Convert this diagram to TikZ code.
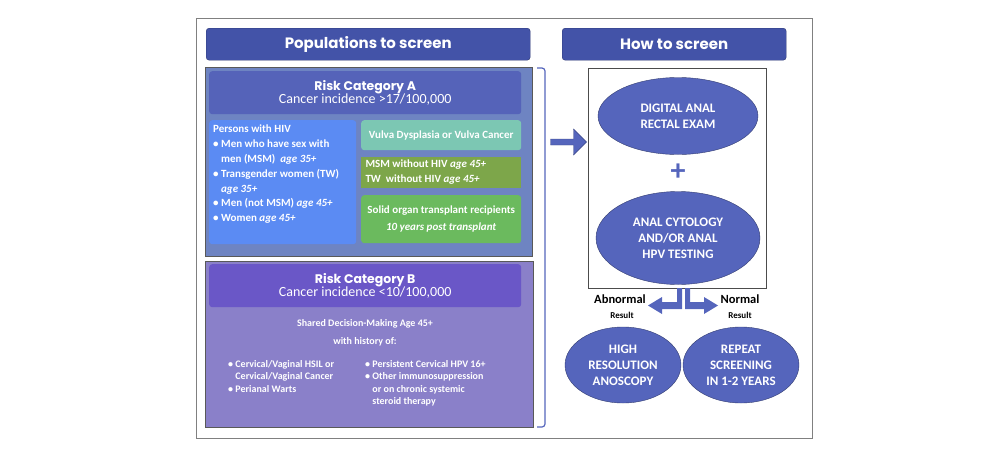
\documentclass[tikz,border=0pt]{standalone}
\usepackage{fontspec}
\setmainfont{Carlito}
\newfontfamily\hdr{Poppins}
\usetikzlibrary{shapes.geometric,shapes.arrows}
\definecolor{hdrblue}{HTML}{4353A8}
\definecolor{panA}{HTML}{6E84C2}
\definecolor{hdA}{HTML}{5563B9}
\definecolor{hiv}{HTML}{5B8BF3}
\definecolor{teal}{HTML}{7CC7B3}
\definecolor{olive}{HTML}{7DA64A}
\definecolor{grn}{HTML}{6BBA5E}
\definecolor{panB}{HTML}{8A80C9}
\definecolor{hdB}{HTML}{6A57C7}
\definecolor{ellc}{HTML}{5565BC}
\begin{document}
\begin{tikzpicture}[x=1pt,y=-1pt,
  hdrbox/.style={fill=hdrblue,rounded corners=3pt,draw=hdrblue!70!black,text=white,font=\hdr\bfseries\fontsize{15}{17}\selectfont},
  box/.style={rounded corners=3pt,text=white},
  ell/.style={ellipse,fill=ellc,draw=ellc!60!black,text=white,align=center,font=\bfseries\fontsize{13}{16}\selectfont,inner sep=0pt},
  lab/.style={font=\bfseries\fontsize{10}{12.5}\selectfont,text=white}]
\useasboundingbox (0,0) rectangle (994,450);
\node[draw=gray,line width=0.8pt,minimum width=616pt,minimum height=420pt,anchor=north west] (frame) at (196,18) {};
\node[hdrbox,minimum width=324pt,minimum height=32pt,anchor=north west] (h1) at (206,28) {Populations to screen};
\node[hdrbox,minimum width=224pt,minimum height=32pt,anchor=north west] (h2) at (562,28) {How to screen};
% Panel A
\node[fill=panA,draw=gray!70!black,minimum width=327pt,minimum height=189pt,anchor=north west] (pA) at (205,67) {};
\node[box,fill=hdA,minimum width=312pt,minimum height=43pt,anchor=north west,align=center] (hA) at (209,71)
 {{\hdr\bfseries\fontsize{12.5}{14}\selectfont Risk Category A}\\[-1pt]{\fontsize{14}{16}\selectfont Cancer incidence >17/100,000}};
\node[box,fill=hiv,minimum width=147pt,minimum height=124pt,anchor=north west] (hiv) at (209,120) {};
\node[anchor=north west,text=white,font=\bfseries\fontsize{11}{14.8}\selectfont,align=left,inner sep=2pt] (hivt) at (211,123) {%
Persons with HIV\\
\textbullet\ Men who have sex with\\
\hphantom{\textbullet\ }men (MSM)\ \ \textit{age 35+}\\
\textbullet\ Transgender women (TW)\\
\hphantom{\textbullet\ }\textit{age 35+}\\
\textbullet\ Men (not MSM) \textit{age 45+}\\
\textbullet\ Women \textit{age 45+}};
\node[box,fill=teal,minimum width=160pt,minimum height=30pt,anchor=north west,font=\bfseries\fontsize{11}{13}\selectfont] (vul) at (361,120) {Vulva Dysplasia or Vulva Cancer};
\node[fill=olive,minimum width=160pt,minimum height=31pt,anchor=north west] (msm) at (361,157) {};
\node[anchor=west,text=white,font=\bfseries\fontsize{11}{12}\selectfont,align=left] (msmt) at (362,172.5) {MSM without HIV \textit{age 45+}\\[3pt]TW\ \ without HIV \textit{age 45+}};
\node[box,fill=grn,minimum width=160pt,minimum height=48pt,anchor=north west,align=center,font=\bfseries\fontsize{11}{12}\selectfont] (sot) at (361,195) {Solid organ transplant recipients\\[5pt]\textit{10 years post transplant}};
% Panel B
\node[fill=panB,draw=gray!70!black,minimum width=328pt,minimum height=166pt,anchor=north west] (pB) at (205,261) {};
\node[box,fill=hdB,minimum width=312pt,minimum height=43pt,anchor=north west,align=center] (hB) at (209,264)
 {{\hdr\bfseries\fontsize{12.5}{14}\selectfont Risk Category B}\\[-1pt]{\fontsize{14}{16}\selectfont Cancer incidence <10/100,000}};
\node[lab,align=center] (sdm) at (365,333) {Shared Decision-Making Age 45+\\[5pt]with history of:};
\node[lab,anchor=north west,align=left,inner sep=0pt] (b1) at (228,360) {\textbullet\ Cervical/Vaginal HSIL or\\\hphantom{\textbullet\ }Cervical/Vaginal Cancer\\\textbullet\ Perianal Warts};
\node[lab,anchor=north west,align=left,inner sep=0pt] (b2) at (365,360) {\textbullet\ Persistent Cervical HPV 16+\\\textbullet\ Other immunosuppression\\\hphantom{\textbullet\ }or on chronic systemic\\\hphantom{\textbullet\ }steroid therapy};
% bracket
\draw[draw=ellc,line width=1.2pt,rounded corners=3pt] (537,68) -- (545,68) -- (545,427) -- (537,427);
% right box
\node[draw=gray!60!black,fill=white,minimum width=178pt,minimum height=220pt,anchor=north west] (rb) at (588,68) {};
\node[single arrow,fill=ellc,draw=ellc!70!black,minimum width=26pt,single arrow head extend=4pt,minimum height=36pt,inner sep=1pt] (arr) at (567,142) {};
\node[ell,minimum width=160pt,minimum height=77pt] (e1) at (678,116) {DIGITAL ANAL\\RECTAL EXAM};
\node[text=ellc,font=\bfseries\fontsize{30}{30}\selectfont] (plus) at (678,172) {+};
\node[ell,minimum width=164pt,minimum height=93pt] (e2) at (678,238) {ANAL CYTOLOGY\\AND/OR ANAL\\HPV TESTING};
\node[ell,minimum width=116pt,minimum height=76pt] (e3) at (623,365) {HIGH\\RESOLUTION\\ANOSCOPY};
\node[ell,minimum width=116pt,minimum height=76pt] (e4) at (741,365) {REPEAT\\SCREENING\\IN 1-2 YEARS};
% split arrow
\fill[ellc] (677,288) -- (677,302) -- (662,302) -- (662,297) -- (648,305.5) -- (662,314) -- (662,309) -- (682,309) -- (682,288) -- cycle;
\fill[ellc] (685,288) -- (685,309) -- (704,309) -- (704,314) -- (718,305.5) -- (704,297) -- (704,302) -- (690,302) -- (690,288) -- cycle;
\node[font=\bfseries\fontsize{12.5}{14}\selectfont] (ab) at (620,299) {Abnormal};
\node[font=\bfseries\fontsize{9}{11}\selectfont] (abr) at (622,315) {Result};
\node[font=\bfseries\fontsize{12.5}{14}\selectfont] (no) at (740,299) {Normal};
\node[font=\bfseries\fontsize{9}{11}\selectfont] (nor) at (740,315) {Result};
\end{tikzpicture}
\end{document}
